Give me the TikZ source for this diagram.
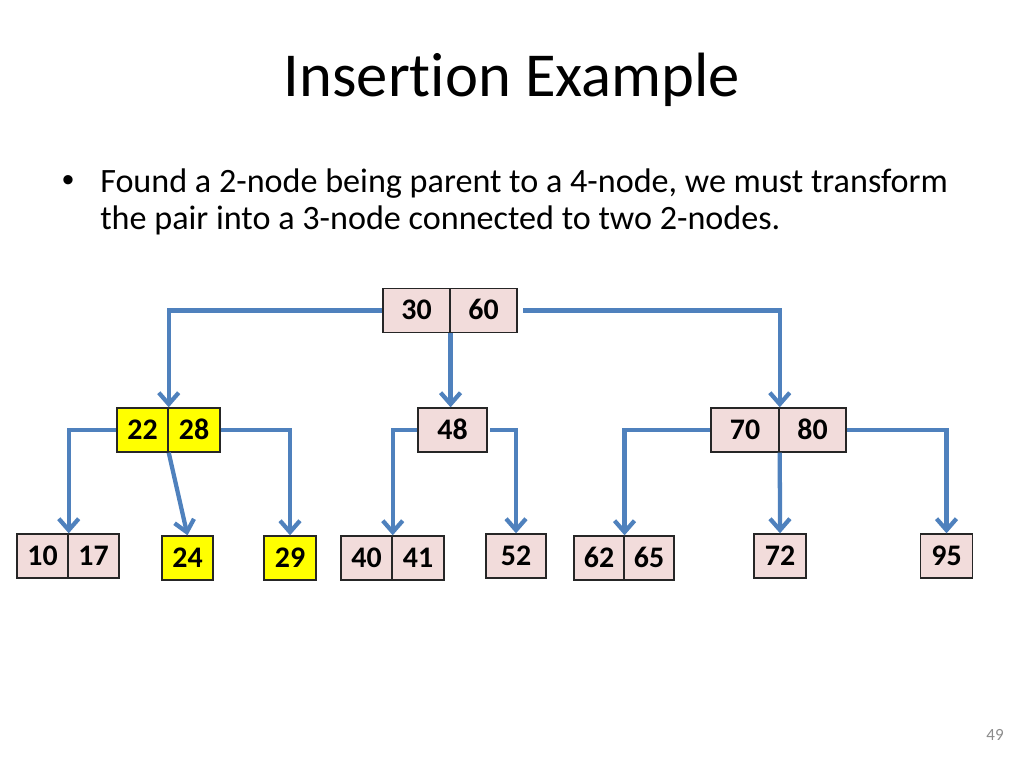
\documentclass[tikz,border=0pt]{standalone}
\usepackage{fontspec}
\setmainfont{Carlito}[Ligatures={NoCommon}]
\newfontfamily\bulletfont{Liberation Sans}
\usetikzlibrary{arrows.meta}
\definecolor{keypink}{HTML}{F2DCDB}
\definecolor{keyyellow}{HTML}{FFFF00}
\definecolor{linkblue}{HTML}{4F81BD}
\definecolor{pagegray}{HTML}{8C8C8C}
\begin{document}
\begin{tikzpicture}[x=0.703125pt,y=-0.703125pt,
  cell/.style={draw=black!85,line width=0.9pt,fill=keypink,inner sep=0pt,
    minimum height=31pt,text height=13.3pt,text depth=0pt,
    font=\fontsize{21}{23}\selectfont\bfseries},
  ycell/.style={cell,fill=keyyellow},
  body/.style={anchor=base west,inner sep=0pt,font=\fontsize{24}{26.5}\selectfont},
  link/.style={draw=linkblue,line width=3pt,
    -{Straight Barb[length=8pt,width=14pt]}}]
\useasboundingbox (0,0) rectangle (1024,768);
% title and text
\node[anchor=base,font=\fontsize{44}{50}\selectfont] (title) at (512,97) {Insertion Example};
\node[anchor=base,inner sep=0pt,font=\bulletfont\fontsize{24}{28}\selectfont] (bul) at (68,192) {•};
\node[body] (txt1) at (100,193) {Found a 2-node being parent to a 4-node, we must transform};
\node[body] (txt2) at (100,230) {the pair into a 3-node connected to two 2-nodes.};
\node[anchor=base,font=\fontsize{12}{14}\selectfont,text=pagegray] (pg) at (995,740) {49};
% root
\node[cell,minimum width=47pt] (r30) at (416.5,310.5) {30};
\node[cell,minimum width=47pt] (r60) at (483.5,310.5) {60};
% level 1
\node[ycell,minimum width=36pt] (n22) at (142.5,430) {22};
\node[ycell,minimum width=36.5pt] (n28) at (194,430) {28};
\node[cell,minimum width=48.5pt] (n48) at (452.5,430) {48};
\node[cell,minimum width=48pt] (n70) at (745,430) {70};
\node[cell,minimum width=47pt] (n80) at (812.5,430) {80};
% leaves
\node[cell,minimum width=36pt] (n10) at (42.5,556) {10};
\node[cell,minimum width=36pt] (n17) at (93.5,556) {17};
\node[ycell,minimum width=36pt] (n24) at (187.5,558) {24};
\node[ycell,minimum width=36.5pt] (n29) at (290,558) {29};
\node[cell,minimum width=36pt] (n40) at (366.5,558) {40};
\node[cell,minimum width=36.5pt] (n41) at (418,558) {41};
\node[cell,minimum width=42pt] (n52) at (516,556) {52};
\node[cell,minimum width=35pt] (n62) at (599,558) {62};
\node[cell,minimum width=35pt] (n65) at (649,558) {65};
\node[cell,minimum width=36.5pt] (n72) at (780,556) {72};
\node[cell,minimum width=37pt] (n95) at (946.5,556) {95};
% connectors from root
\draw[link] (r30.west) -| (n22.north east);
\draw[link] (r30.south east) -- (r30.south east |- n48.north);
\draw[link,shorten <=4pt] (r60.east) -| (n70.north east);
% from 22|28
\draw[link] (n22.west) -| (n10.north east);
\draw[link] (n22.south east) -- (n24.north);
\draw[link] (n28.east) -| (n29.north);
% from 48
\draw[link] (n48.west) -| (n40.north east);
\draw[link,shorten <=2pt] (n48.east) -| (n52.north);
% from 70|80
\draw[link] (n70.west) -| (n62.north east);
\draw[link] (n70.south east) -- (n72.north);
\draw[link] (n80.east) -| (n95.north);
\end{tikzpicture}
\end{document}
